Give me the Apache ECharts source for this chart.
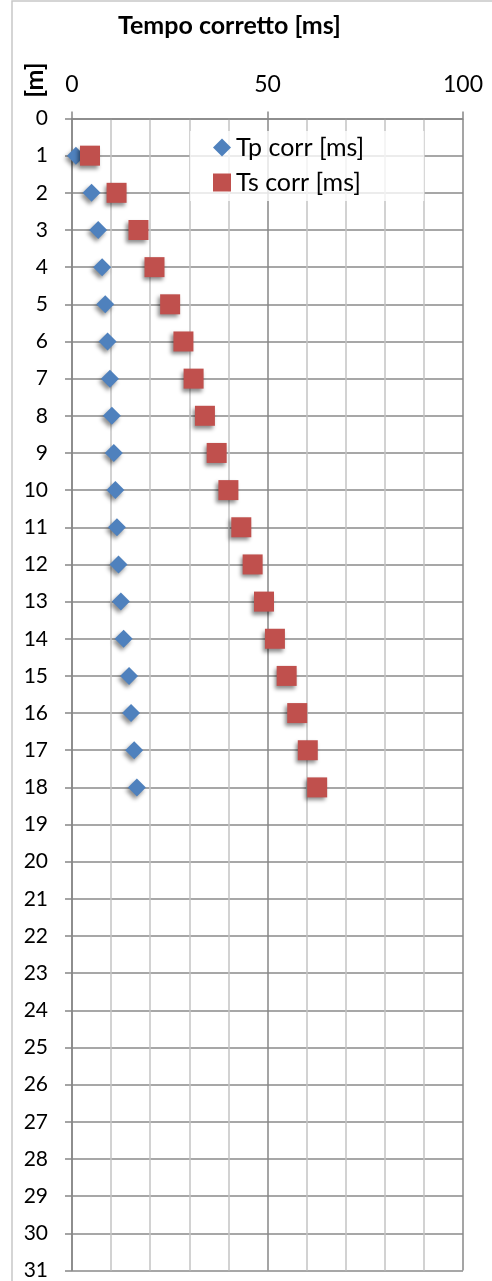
<!DOCTYPE html>
<html>
<head>
<meta charset="utf-8">
<script src="https://cdn.jsdelivr.net/npm/echarts@6/dist/echarts.min.js"></script>
<style>
  html, body { margin: 0; padding: 0; background: #fff; }
  #chart { width: 492px; height: 1281px; }
</style>
</head>
<body>
<div id="chart"></div>
<script>
// Depth of each measurement [m]
const depths = [1, 2, 3, 4, 5, 6, 7, 8, 9, 10, 11, 12, 13, 14, 15, 16, 17, 18];
// Corrected P-wave travel times [ms]
const tpCorr = [1.0, 5.0, 6.7, 7.7, 8.5, 9.1, 9.7, 10.2, 10.7, 11.1, 11.5, 11.9, 12.5, 13.2, 14.6, 15.1, 15.9, 16.6];
// Corrected S-wave travel times [ms]
const tsCorr = [4.6, 11.4, 17.0, 21.1, 25.1, 28.5, 31.1, 34.0, 37.0, 40.0, 43.3, 46.2, 49.1, 51.9, 54.9, 57.6, 60.3, 62.7];

const seriesNames = ['Tp corr [ms]', 'Ts corr [ms]'];
const titleText = 'Tempo corretto [ms]';
const depthAxisName = '[m]';

const FONT = 'Lato, "Open Sans", sans-serif';

function pairs(xs) {
  return xs.map((v, i) => [v, depths[i]]);
}

const markerShadow = {
  opacity: 1,
  shadowColor: 'rgba(0,0,0,0.45)',
  shadowBlur: 4,
  shadowOffsetX: -2,
  shadowOffsetY: 3
};

const chart = echarts.init(document.getElementById('chart'), null, { renderer: 'canvas' });

chart.setOption({
  animation: false,
  backgroundColor: '#fff',
  title: {
    text: titleText,
    left: 113,
    top: 8,
    textStyle: { fontFamily: FONT, fontSize: 25, fontWeight: 'bold', color: '#000' }
  },
  graphic: [
    {
      type: 'rect',
      shape: { x: 12, y: 1, width: 700, height: 1400 },
      style: { fill: 'none', stroke: '#c8c8c8', lineWidth: 1.5 },
      silent: true,
      z: -1
    },
    {
      type: 'text',
      x: 35,
      y: 80,
      rotation: Math.PI / 2,
      style: {
        text: depthAxisName,
        font: 'bold 25px ' + FONT,
        fill: '#000',
        align: 'center',
        verticalAlign: 'middle'
      }
    }
  ],
  legend: {
    orient: 'vertical',
    left: 190,
    top: 131,
    padding: [4, 60, 6, 23],
    itemWidth: 18,
    itemHeight: 18,
    itemGap: 10,
    backgroundColor: 'rgba(255,255,255,0.78)',
    textStyle: { fontFamily: FONT, fontSize: 25, color: '#000' },
    data: seriesNames
  },
  grid: {
    left: 72,
    right: 29,
    top: 118.5,
    bottom: 10,
    containLabel: false
  },
  xAxis: {
    type: 'value',
    position: 'top',
    min: 0,
    max: 100,
    interval: 50,
    axisLine: { show: true, lineStyle: { color: '#878787', width: 1.5 } },
    axisTick: { show: true, length: 7, lineStyle: { color: '#878787', width: 1.5 } },
    axisLabel: { fontFamily: FONT, fontSize: 23, color: '#000', margin: 22 },
    splitLine: { show: true, lineStyle: { color: '#878787', width: 1.5 } },
    minorTick: { show: false, splitNumber: 5 },
    minorSplitLine: { show: true, lineStyle: { color: '#c3c3c3', width: 1.5 } }
  },
  yAxis: {
    type: 'value',
    inverse: true,
    min: 0,
    max: 31,
    interval: 1,
    axisLine: { show: true, lineStyle: { color: '#878787', width: 1.5 } },
    axisTick: { show: true, length: 7, lineStyle: { color: '#878787', width: 1.5 } },
    axisLabel: { fontFamily: FONT, fontSize: 21, color: '#000', margin: 24 },
    splitLine: { show: true, lineStyle: { color: '#8a8a8a', width: 1.6 } }
  },
  series: [
    {
      name: seriesNames[0],
      type: 'scatter',
      symbol: 'diamond',
      symbolSize: 18,
      itemStyle: Object.assign({ color: '#4f81bd' }, markerShadow),
      data: pairs(tpCorr),
      z: 3
    },
    {
      name: seriesNames[1],
      type: 'scatter',
      symbol: 'rect',
      symbolSize: 20,
      itemStyle: Object.assign({ color: '#c0504d' }, markerShadow),
      data: pairs(tsCorr),
      z: 4
    }
  ]
});
</script>
</body>
</html>
